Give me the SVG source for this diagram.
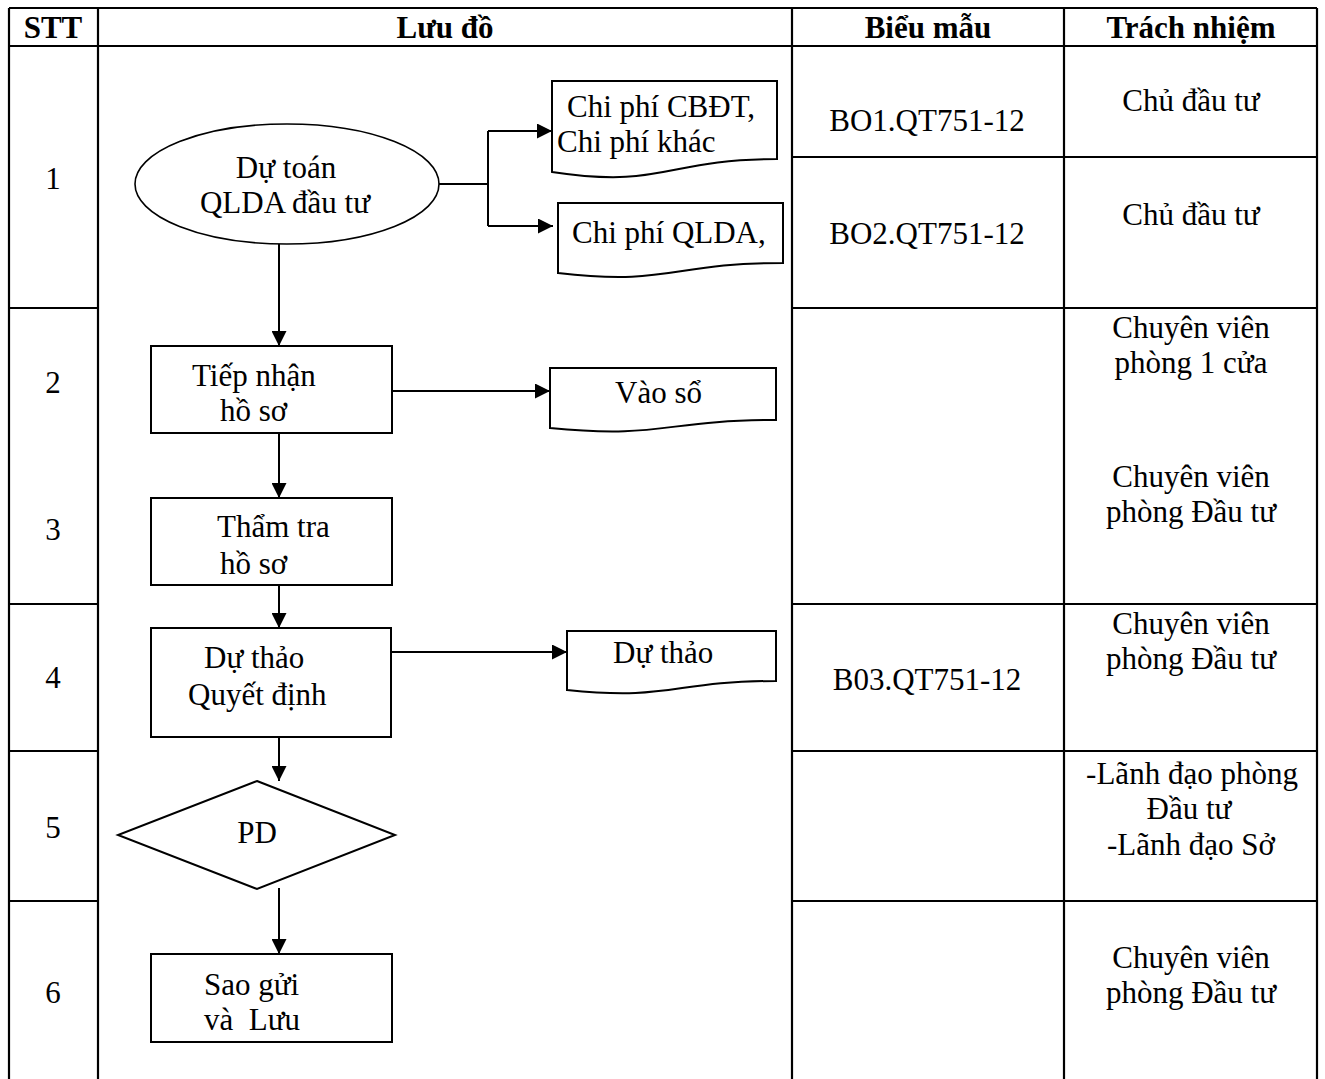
<svg xmlns="http://www.w3.org/2000/svg" width="1325" height="1079" viewBox="0 0 1325 1079">
<style>
.grid{stroke:#000;stroke-width:2.2;fill:none}
.box{fill:#fff;stroke:#000;stroke-width:2}
.thin{fill:#fff;stroke:#000;stroke-width:1.6}
.conn{stroke:#000;stroke-width:2;fill:none}
text{font-family:"Liberation Serif","Times New Roman",serif;font-size:31px;fill:#000}
.h{font-weight:bold}
.c{text-anchor:middle}
.pre{white-space:pre}
</style>
<defs>
<marker id="arr" markerUnits="userSpaceOnUse" markerWidth="15" markerHeight="15" refX="15" refY="7.5" orient="auto">
<path d="M0,0 L15,7.5 L0,15 Z" fill="#000"/>
</marker>
</defs>
<rect width="1325" height="1079" fill="#fff"/>
<g id="table">
<path class="grid" d="M9,8 H1317 M9,46 H1317 M9,8 V1079 M98,8 V1079 M792,8 V1079 M1064,8 V1079 M1317,8 V1079"/>
<path class="grid" d="M792,157 H1317 M9,308 H98 M792,308 H1317 M9,604 H98 M792,604 H1317 M9,751 H98 M792,751 H1317 M9,901 H98 M792,901 H1317"/>
<text class="h c" x="53" y="38">STT</text>
<text class="h c" x="445" y="38">Lưu đồ</text>
<text class="h c" x="928" y="38">Biểu mẫu</text>
<text class="h c" x="1191" y="38">Trách nhiệm</text>
<text class="c" x="53" y="189">1</text>
<text class="c" x="53" y="393">2</text>
<text class="c" x="53" y="540">3</text>
<text class="c" x="53" y="688">4</text>
<text class="c" x="53" y="838">5</text>
<text class="c" x="53" y="1003">6</text>
<text class="c" x="927" y="131">BO1.QT751-12</text>
<text class="c" x="927" y="244">BO2.QT751-12</text>
<text class="c" x="927" y="690">B03.QT751-12</text>
<text class="c" x="1191" y="111">Chủ đầu tư</text>
<text class="c" x="1191" y="225">Chủ đầu tư</text>
<text class="c" x="1191" y="338">Chuyên viên</text>
<text class="c" x="1191" y="373">phòng 1 cửa</text>
<text class="c" x="1191" y="487">Chuyên viên</text>
<text class="c" x="1191" y="522">phòng Đầu tư</text>
<text class="c" x="1191" y="634">Chuyên viên</text>
<text class="c" x="1191" y="669">phòng Đầu tư</text>
<text class="c" x="1192" y="784">-Lãnh đạo phòng</text>
<text class="c" x="1189" y="819">Đầu tư</text>
<text class="c" x="1191" y="855">-Lãnh đạo Sở</text>
<text class="c" x="1191" y="968">Chuyên viên</text>
<text class="c" x="1191" y="1003">phòng Đầu tư</text>
</g>
<g id="connectors">
<path class="conn" d="M439,184 H488" stroke-width="1.6"/>
<path class="conn" d="M488,131 V226"/>
<path class="conn" d="M488,131 H552" marker-end="url(#arr)"/>
<path class="conn" d="M488,226 H553" marker-end="url(#arr)"/>
<path class="conn" d="M279,244 V346" marker-end="url(#arr)"/>
<path class="conn" d="M279,433 V498" marker-end="url(#arr)"/>
<path class="conn" d="M279,585 V628" marker-end="url(#arr)"/>
<path class="conn" d="M279,737 V781" marker-end="url(#arr)"/>
<path class="conn" d="M279,888 V954" marker-end="url(#arr)"/>
<path class="conn" d="M392,391 H550" marker-end="url(#arr)"/>
<path class="conn" d="M391,652 H567" marker-end="url(#arr)"/>
</g>
<g id="node-start">
<ellipse class="thin" cx="287" cy="184" rx="152" ry="60"/>
<text class="c" x="286" y="178">Dự toán</text>
<text class="c" x="285" y="213">QLDA đầu tư</text>
</g>
<g id="doc-cbdt">
<path class="box" d="M552,81 H777 V159 C664.5,159 664.5,189 552,172 Z"/>
<text x="567" y="117">Chi phí CBĐT,</text>
<text x="557" y="152">Chi phí khác</text>
</g>
<g id="doc-qlda">
<path class="box" d="M558,203 H783 V263 C670.5,263 670.5,286 558,273 Z"/>
<text x="572" y="243">Chi phí QLDA,</text>
</g>
<g id="node-tiepnhan">
<rect class="box" x="151" y="346" width="241" height="87"/>
<text x="192" y="386">Tiếp nhận</text>
<text x="220" y="421">hồ sơ</text>
</g>
<g id="doc-vaoso">
<path class="box" d="M550,368 H776 V420 C663,420 663,439 550,428 Z"/>
<text x="615" y="403">Vào sổ</text>
</g>
<g id="node-thamtra">
<rect class="box" x="151" y="498" width="241" height="87"/>
<text x="217" y="537">Thẩm tra</text>
<text x="220" y="574">hồ sơ</text>
</g>
<g id="node-duthao">
<rect class="box" x="151" y="628" width="240" height="109"/>
<text x="204" y="668">Dự thảo</text>
<text x="188" y="705">Quyết định</text>
</g>
<g id="doc-duthao">
<path class="box" d="M567,631 H776 V681 C671.5,681 671.5,701 567,690 Z"/>
<text x="613" y="663">Dự thảo</text>
</g>
<g id="node-pd">
<path class="box" d="M257,781 L395,835 L257,889 L118,835 Z"/>
<text class="c" x="257" y="843">PD</text>
</g>
<g id="node-saogui">
<rect class="box" x="151" y="954" width="241" height="88"/>
<text x="204" y="995">Sao gửi</text>
<text class="pre" x="204" y="1030">và  Lưu</text>
</g>
</svg>
